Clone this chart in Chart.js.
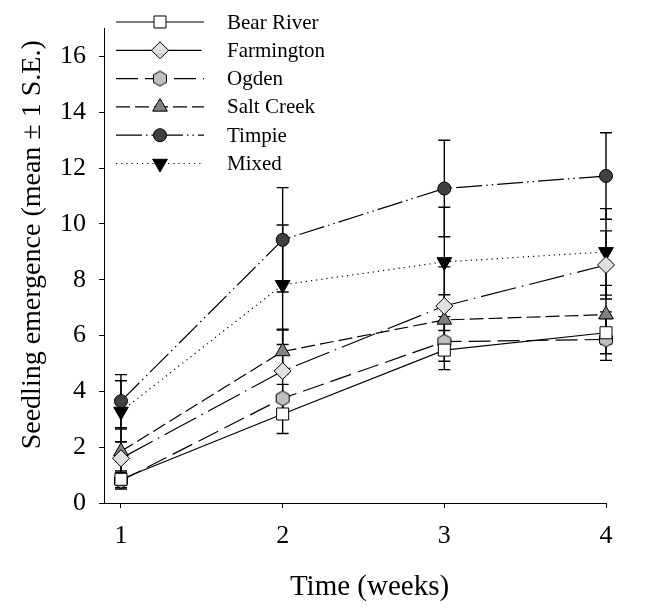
<!DOCTYPE html>
<html>
<head>
<meta charset="utf-8">
<script src="https://cdn.jsdelivr.net/npm/chart.js@4.4.1/dist/chart.umd.min.js"></script>
<style>
  body { margin: 0; background: white; }
  #wrap { width: 645px; height: 608px; }
</style>
</head>
<body>
<div id="wrap"><canvas id="emergenceChart" width="645" height="608"></canvas></div>
<script>
// weeks on the x axis
const weeks = [1, 2, 3, 4];
const xTicks = [1, 2, 3, 4];
const yTicks = [0, 2, 4, 6, 8, 10, 12, 14, 16];

// means and standard errors
const bearRiver = [0.85, 3.19, 5.48, 6.10];
const bearRiverSE = [0.30, 0.70, 0.70, 0.75];
const farmington = [1.60, 4.73, 7.06, 8.53];
const farmingtonSE = [0.60, 1.47, 1.40, 1.22];
const ogden = [0.80, 3.75, 5.78, 5.86];
const ogdenSE = [0.30, 0.50, 0.70, 0.75];
const saltCreek = [1.85, 5.43, 6.56, 6.75];
const saltCreekSE = [0.80, 0.80, 0.90, 1.05];
const timpie = [3.65, 9.43, 11.27, 11.72];
const timpieSE = [0.95, 1.87, 1.73, 1.55];
const mixed = [3.28, 7.82, 8.64, 9.00];
const mixedSE = [1.10, 2.14, 1.96, 1.55];

const serif = 'Liberation Serif, Times New Roman, serif';

// hexagon marker for Ogden (chart.js has no hexagon style)
function hexagon(r, fill) {
    const c = document.createElement('canvas');
    c.width = c.height = Math.ceil(2 * r + 3);
    const g = c.getContext('2d');
    const cx = c.width / 2, cy = c.height / 2;
    g.beginPath();
    for (let k = 0; k < 6; k++) {
        const a = Math.PI / 2 + k * Math.PI / 3;
        const px = cx + r * Math.cos(a), py = cy - r * Math.sin(a);
        if (k === 0) g.moveTo(px, py); else g.lineTo(px, py);
    }
    g.closePath();
    g.fillStyle = fill;
    g.fill();
    g.lineWidth = 1;
    g.strokeStyle = 'black';
    g.stroke();
    return c;
}

function series(label, values, se, dash, style, radius, fill, rotation) {
    return {
        label: label,
        data: values.map((v, i) => ({ x: weeks[i], y: v })),
        se: se,
        borderColor: 'black',
        borderWidth: 1.2,
        borderDash: dash,
        pointStyle: style,
        pointRadius: radius,
        pointHoverRadius: radius,
        pointRotation: rotation || 0,
        pointBackgroundColor: fill,
        pointBorderColor: 'black',
        pointBorderWidth: 1,
        tension: 0,
        clip: false
    };
}

const datasets = [
    series('Bear River', bearRiver, bearRiverSE, [], 'rect', 8.5, 'white'),
    series('Farmington', farmington, farmingtonSE, [36, 6, 1.5, 6], 'rectRot', 8.5, '#e0e0e0'),
    series('Ogden', ogden, ogdenSE, [22, 7], hexagon(7.5, '#c0c0c0'), 7.5, '#c0c0c0'),
    series('Salt Creek', saltCreek, saltCreekSE, [14, 5], 'triangle', 8.5, '#808080'),
    series('Timpie', timpie, timpieSE, [26, 4, 1.5, 4, 1.5, 4], 'circle', 6.5, '#404040'),
    series('Mixed', mixed, mixedSE, [1.2, 4], 'triangle', 8.5, 'black', 180)
];

// vertical error bars with caps
const errorBars = {
    id: 'errorBars',
    beforeDatasetsDraw(chart) {
        const ctx = chart.ctx;
        const xs = chart.scales.x, ys = chart.scales.y;
        ctx.save();
        ctx.strokeStyle = 'black';
        ctx.lineWidth = 1.4;
        chart.data.datasets.forEach(ds => {
            ds.data.forEach((p, i) => {
                const x = xs.getPixelForValue(p.x);
                const top = ys.getPixelForValue(p.y + ds.se[i]);
                const bot = ys.getPixelForValue(p.y - ds.se[i]);
                ctx.beginPath();
                ctx.moveTo(x, top); ctx.lineTo(x, bot);
                ctx.moveTo(x - 6, top); ctx.lineTo(x + 6, top);
                ctx.moveTo(x - 6, bot); ctx.lineTo(x + 6, bot);
                ctx.stroke();
            });
        });
        ctx.restore();
    }
};

// legend in the top left corner: line sample with the marker in its middle
const lineLegend = {
    id: 'lineLegend',
    afterDraw(chart) {
        const ctx = chart.ctx;
        const area = chart.chartArea;
        const x0 = area.left + 12, x1 = area.left + 100, xm = (x0 + x1) / 2;
        ctx.save();
        chart.data.datasets.forEach((ds, i) => {
            const y = 22 + i * 28.3;
            ctx.strokeStyle = 'black';
            ctx.lineWidth = ds.borderWidth;
            ctx.setLineDash(ds.borderDash);
            ctx.beginPath();
            ctx.moveTo(x0, y); ctx.lineTo(x1, y);
            ctx.stroke();
            ctx.setLineDash([]);
            ctx.fillStyle = ds.pointBackgroundColor;
            ctx.strokeStyle = 'black';
            ctx.lineWidth = 1;
            Chart.helpers.drawPoint(ctx, {
                pointStyle: ds.pointStyle,
                rotation: ds.pointRotation,
                radius: ds.pointRadius,
                borderWidth: 1
            }, xm, y);
            ctx.fillStyle = 'black';
            ctx.font = '21px ' + serif;
            ctx.textBaseline = 'middle';
            ctx.textAlign = 'left';
            ctx.fillText(ds.label, area.left + 123, y + 1);
        });
        ctx.restore();
    }
};

new Chart(document.getElementById('emergenceChart').getContext('2d'), {
    type: 'line',
    data: { datasets: datasets },
    options: {
        responsive: false,
        animation: false,
        events: [],
        layout: { padding: { left: 0, right: 39, top: 18, bottom: 0 } },
        plugins: {
            legend: { display: false },
            tooltip: { enabled: false }
        },
        scales: {
            x: {
                type: 'linear',
                min: 0.895,
                max: 4,
                afterBuildTicks: s => { s.ticks = xTicks.map(v => ({ value: v })); },
                afterFit: s => { s.height = 105; },
                grid: { drawOnChartArea: false, drawTicks: true, tickLength: 5, color: 'black' },
                border: { display: true, color: 'black', width: 1 },
                ticks: { color: 'black', padding: 13, font: { family: serif, size: 26 } },
                title: {
                    display: true,
                    // leading spaces nudge the title right, as in the original
                    text: '    Time (weeks)',
                    color: 'black',
                    font: { family: serif, size: 29 },
                    padding: { top: 4, bottom: 3 }
                }
            },
            y: {
                type: 'linear',
                min: 0,
                max: 17,
                afterBuildTicks: s => { s.ticks = yTicks.map(v => ({ value: v })); },
                afterFit: s => { s.width = 104; },
                grid: { drawOnChartArea: false, drawTicks: true, tickLength: 5, color: 'black' },
                border: { display: true, color: 'black', width: 1 },
                ticks: { color: 'black', padding: 13, font: { family: serif, size: 26 } },
                title: {
                    display: true,
                    text: '      Seedling emergence (mean ± 1 S.E.)',
                    color: 'black',
                    font: { family: serif, size: 28 },
                    padding: { top: 16, bottom: 4 }
                }
            }
        }
    },
    plugins: [errorBars, lineLegend]
});
</script>
</body>
</html>
